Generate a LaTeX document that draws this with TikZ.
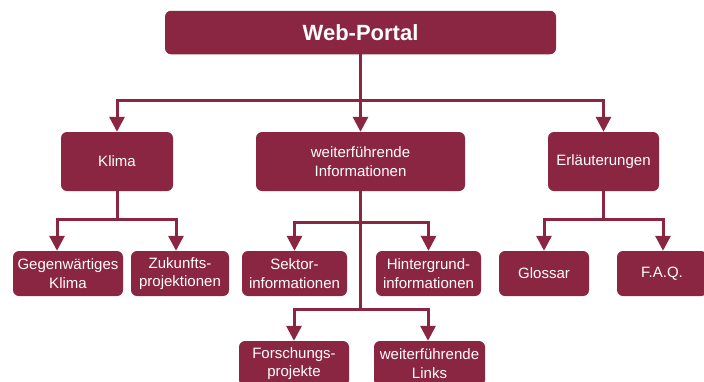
\documentclass[tikz,border=0pt]{standalone}
\usepackage{fontspec}
\setmainfont{Liberation Sans}
\usepackage{xcolor}
\definecolor{portalred}{RGB}{139,38,66}
\usepackage{tikz}
\usetikzlibrary{arrows.meta, positioning}

\tikzset{
	box/.style={fill=portalred, rounded corners=6pt, text=white, align=center, inner sep=0pt, font=\fontsize{15}{18.5}\selectfont},
	link/.style={draw=portalred, line width=3pt, -{Triangle[length=15pt,width=15pt]}},
}

\begin{document}
\begin{tikzpicture}[x=1pt, y=-1pt]

\clip (0,0) rectangle (704,381); % picture frame

\def \rowa{161.5}
\def \rowb{273.5}
\def \rowc{363.5}

\node[box, minimum width=391pt, minimum height=43.5pt, font=\fontsize{22}{26}\selectfont\bfseries] (portal) at (360.5,32.5) {Web-Portal};

\node[box, minimum width=112pt, minimum height=59pt] (klima) at (117,\rowa) {Klima};
\node[box, minimum width=209pt, minimum height=59pt] (infos) at (360.5,\rowa) {weiterführende\\Informationen};
\node[box, minimum width=111pt, minimum height=59pt] (erl)   at (603.5,\rowa) {Erläuterungen};

\node[box, minimum width=110pt, minimum height=45pt] (gegen)   at (68,\rowb)    {Gegenwärtiges\\Klima};
\node[box, minimum width=98pt,  minimum height=45pt] (zukunft) at (180,\rowb)   {Zukunfts-\\projektionen};
\node[box, minimum width=105pt, minimum height=45pt] (sektor)  at (294.5,\rowb) {Sektor-\\informationen};
\node[box, minimum width=105pt, minimum height=45pt] (hinter)  at (428.5,\rowb) {Hintergrund-\\informationen};
\node[box, minimum width=90pt,  minimum height=45pt] (glossar) at (544,\rowb)   {Glossar};
\node[box, minimum width=90pt,  minimum height=45pt] (faq)     at (662,\rowb)   {F.A.Q.};

\node[box, minimum width=110pt, minimum height=45pt] (forsch) at (294,\rowc)   {Forschungs-\\projekte};
\node[box, minimum width=111pt, minimum height=45pt] (links)  at (429.5,\rowc) {weiterführende\\Links};

% top level
\draw[link] (portal.south) -- (infos.north);
\draw[link] (portal.south) -- ++(0,46) -| (klima.north);
\draw[link] (portal.south) -- ++(0,46) -| (erl.north);

% Klima
\draw[link] (klima.south) -- ++(0,28) -| ([xshift=-11pt]gegen.north);
\draw[link] (klima.south) -- ++(0,28) -| ([xshift=-4pt]zukunft.north);

% Informationen
\draw[link] (infos.south) -- ++(0,31) -| (sektor.north);
\draw[link] (infos.south) -- ++(0,31) -| (hinter.north);
\draw[link] (infos.south) -- ++(0,118) -| (forsch.north);
\draw[link] (infos.south) -- ++(0,118) -| ([xshift=-1.5pt]links.north);

% Erlaeuterungen
\draw[link] (erl.south) -- ++(0,28) -| (glossar.north);
\draw[link] (erl.south) -- ++(0,28) -| ([xshift=1pt]faq.north);

\end{tikzpicture}
\end{document}
